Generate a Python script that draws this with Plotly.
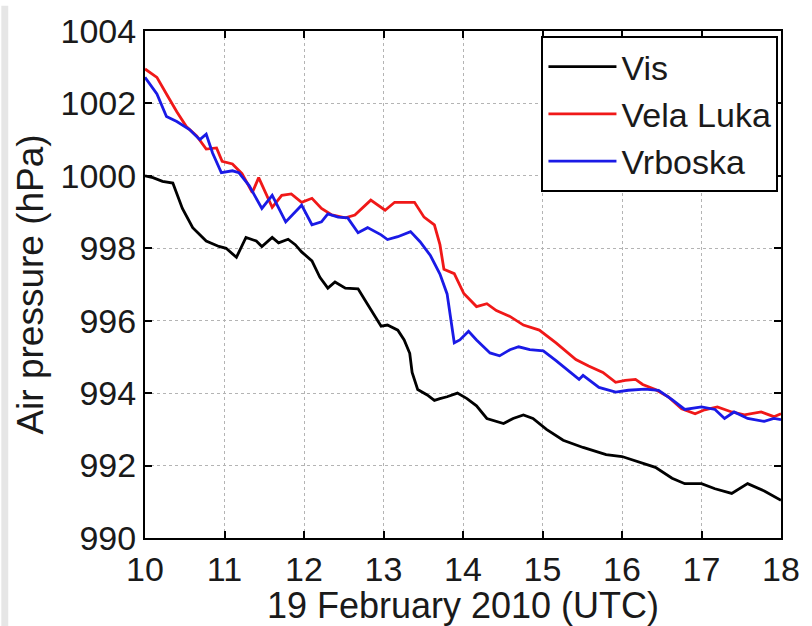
import plotly.graph_objects as go

vis_x = [10.0, 10.1, 10.22, 10.35, 10.47, 10.6, 10.77, 10.93, 11.02, 11.15, 11.27, 11.4, 11.47, 11.6, 11.68, 11.8,
         11.89, 11.97, 12.1, 12.2, 12.3, 12.39, 12.52, 12.68, 12.77, 12.84, 12.97, 13.05, 13.18, 13.26, 13.33, 13.36,
         13.43, 13.55, 13.64, 13.71, 13.8, 13.93, 14.05, 14.17, 14.3, 14.51, 14.63, 14.76, 14.88, 15.05, 15.26, 15.51,
         15.8, 16.0, 16.2, 16.42, 16.63, 16.79, 17.0, 17.17, 17.38, 17.58, 17.79, 18.0]
vis_y = [1000.0, 999.95, 999.85, 999.8, 999.1, 998.57, 998.2, 998.05, 998.0, 997.75, 998.3, 998.2, 998.05, 998.3,
         998.15, 998.25, 998.1, 997.9, 997.65, 997.2, 996.9, 997.07, 996.9, 996.88, 996.56, 996.3, 995.85, 995.88,
         995.74, 995.47, 995.1, 994.57, 994.1, 993.95, 993.8, 993.85, 993.9, 994.0, 993.85, 993.65, 993.3, 993.16,
         993.3, 993.4, 993.3, 993.0, 992.7, 992.5, 992.3, 992.25, 992.1, 991.95, 991.65, 991.5, 991.5, 991.36,
         991.23, 991.5, 991.3, 991.04]

vela_x = [10.0, 10.15, 10.27, 10.4, 10.52, 10.65, 10.77, 10.9, 10.97, 11.1, 11.22, 11.35, 11.43, 11.52, 11.6, 11.72,
          11.84, 11.97, 12.1, 12.22, 12.35, 12.52, 12.64, 12.84, 13.02, 13.14, 13.39, 13.51, 13.64, 13.71, 13.76,
          13.89, 14.01, 14.17, 14.3, 14.42, 14.59, 14.76, 14.96, 15.17, 15.42, 15.58, 15.76, 15.92, 16.04, 16.17,
          16.26, 16.42, 16.58, 16.75, 16.92, 17.04, 17.2, 17.38, 17.54, 17.75, 17.91, 18.0]
vela_y = [1002.95, 1002.72, 1002.26, 1001.77, 1001.36, 1001.1, 1000.74, 1000.77, 1000.4, 1000.33, 1000.06, 999.54,
          999.95, 999.54, 999.13, 999.46, 999.5, 999.27, 999.38, 999.1, 998.92, 998.84, 998.92, 999.33, 999.05,
          999.27, 999.27, 998.86, 998.65, 998.1, 997.42, 997.3, 996.75, 996.39, 996.47, 996.28, 996.12, 995.88,
          995.74, 995.39, 994.93, 994.75, 994.57, 994.3, 994.35, 994.38, 994.24, 994.1, 993.9, 993.57, 993.43,
          993.54, 993.62, 993.48, 993.4, 993.48, 993.35, 993.43]

vrb_x = [10.0, 10.15, 10.27, 10.4, 10.56, 10.69, 10.77, 10.85, 10.96, 11.1, 11.18, 11.31, 11.47, 11.6, 11.77, 11.89,
         11.97, 12.1, 12.22, 12.3, 12.43, 12.55, 12.68, 12.8, 12.97, 13.05, 13.18, 13.34, 13.46, 13.59, 13.71, 13.8,
         13.89, 13.96, 14.07, 14.17, 14.34, 14.46, 14.59, 14.7, 14.84, 15.01, 15.17, 15.46, 15.51, 15.71, 15.92,
         16.08, 16.29, 16.46, 16.63, 16.79, 17.0, 17.17, 17.29, 17.41, 17.58, 17.79, 17.91, 18.0]
vrb_y = [1002.72, 1002.26, 1001.64, 1001.5, 1001.28, 1001.0, 1001.15, 1000.63, 1000.09, 1000.14, 1000.09, 999.73,
         999.1, 999.46, 998.73, 999.0, 999.19, 998.65, 998.73, 998.95, 998.86, 998.84, 998.43, 998.57, 998.37,
         998.24, 998.32, 998.46, 998.18, 997.8, 997.29, 996.74, 995.39, 995.47, 995.71, 995.47, 995.11, 995.03,
         995.2, 995.28, 995.2, 995.17, 994.9, 994.38, 994.49, 994.16, 994.03, 994.08, 994.11, 994.08, 993.82,
         993.55, 993.62, 993.55, 993.3, 993.48, 993.3, 993.22, 993.3, 993.27]

x_ticks = [10, 11, 12, 13, 14, 15, 16, 17, 18]
y_ticks = [990, 992, 994, 996, 998, 1000, 1002, 1004]

FONT = "Liberation Sans, Arial, sans-serif"

fig = go.Figure()
fig.add_trace(go.Scatter(x=vis_x, y=vis_y, mode="lines", name="Vis",
                         line=dict(color="#000000", width=2.8)))
fig.add_trace(go.Scatter(x=vela_x, y=vela_y, mode="lines", name="Vela Luka",
                         line=dict(color="#f01818", width=2.8)))
fig.add_trace(go.Scatter(x=vrb_x, y=vrb_y, mode="lines", name="Vrboska",
                         line=dict(color="#1a1ae6", width=2.8)))

axis_common = dict(
    showline=True, linecolor="black", linewidth=2, mirror="ticks",
    ticks="inside", ticklen=7, tickwidth=1.5, tickcolor="black",
    showgrid=True, gridcolor="#b4b4b4", gridwidth=1, griddash="dot",
    zeroline=False, tickfont=dict(family=FONT, size=34, color="#1a1a1a"),
)

fig.update_xaxes(range=[10, 18], tickvals=x_ticks, ticktext=[str(v) for v in x_ticks],
                 title=dict(text="19 February 2010 (UTC)", font=dict(family=FONT, size=36, color="#1a1a1a"),
                            standoff=0),
                 **axis_common)
fig.update_yaxes(range=[990, 1004], tickvals=y_ticks, ticktext=[str(v) for v in y_ticks],
                 title=dict(text="Air pressure (hPa)", font=dict(family=FONT, size=37, color="#1a1a1a"),
                            standoff=6),
                 **axis_common)

fig.update_layout(
    width=812, height=626,
    margin=dict(l=145, r=25, t=22, b=88),
    paper_bgcolor="white", plot_bgcolor="white",
    showlegend=True,
    legend=dict(x=0.996, y=0.99, xanchor="right", yanchor="top",
                bgcolor="white", bordercolor="black", borderwidth=2,
                font=dict(family=FONT, size=34, color="#1a1a1a"),
                tracegroupgap=0, itemwidth=68),
    shapes=[dict(type="rect", xref="paper", yref="paper", x0=-0.2259, x1=-0.2150, y0=-0.2, y1=1.05,
                 fillcolor="#e6e6e6", line=dict(width=0), layer="below")],
)

fig.write_html("out.html")
